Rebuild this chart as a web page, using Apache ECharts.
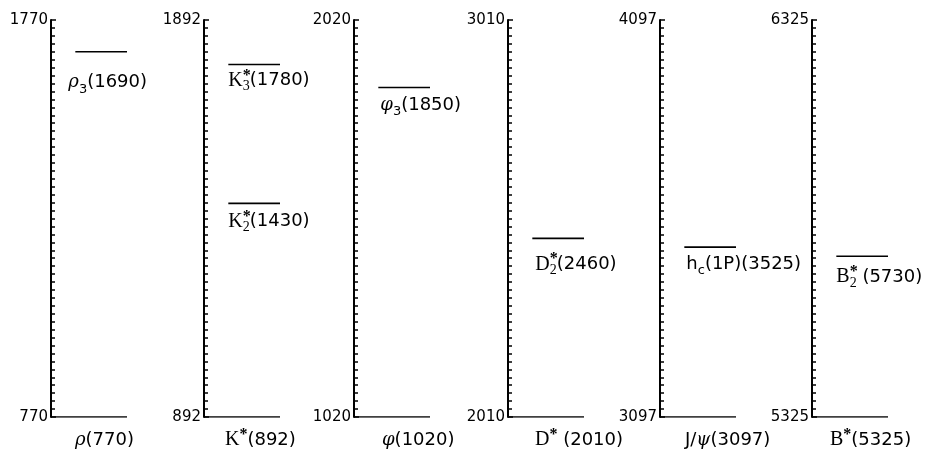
<!DOCTYPE html>
<html>
<head>
<meta charset="utf-8">
<script src="https://cdn.jsdelivr.net/npm/echarts@6/dist/echarts.min.js"></script>
<style>
    html, body { margin: 0; background: #fff; }
    #chart { width: 929px; height: 457px; }
</style>
</head>
<body>
<div id="chart"></div>
<script>
// mass window of each panel (MeV)
const axisMin = [770, 892, 1020, 2010, 3097, 5325];
const axisMax = [1770, 1892, 2020, 3010, 4097, 6325];

// ground states, one per panel
const groundMass = [770, 892, 1020, 2010, 3097, 5325];
const groundNames = [
    '{gi|ρ}{n|(770)}',
    '{s|K}{sup|*}{n|(892)}',
    '{gi|φ}{n|(1020)}',
    '{s|D}{sup|*}{n| (2010)}',
    '{n|J/}{gi|ψ}{n|(3097)}',
    '{s|B}{sup|*}{n|(5325)}'
];

// excited states
const excitedPanel = [0, 1, 1, 2, 3, 4, 5];
const excitedMass = [1690, 1780, 1430, 1850, 2460, 3525, 5730];
const excitedNames = [
    '{gi|ρ}{subn|3}{n|(1690)}',
    '{s|K}{sup0|*}{sub|3}{n|(1780)}',
    '{s|K}{sup0|*}{sub|2}{n|(1430)}',
    '{gi|φ}{subn|3}{n|(1850)}',
    '{s|D}{sup0|*}{sub|2}{n|(2460)}',
    '{n|h}{subn|c}{n|(1P)(3525)}',
    '{s|B}{sup0|*}{sub|2}{n| (5730)}'
];

// layout (pixels)
const axisX = [51, 204, 354, 508, 660, 812];
const groundLabelDx = [24, 21, 28, 27, 25, 18];
const excitedLabelOffset = [[-7, 31], [0, 16], [0, 18], [2, 18], [3, 26], [2, 17], [0, 21]];
const lineStart = 0.32;

const rich = {
    n: { fontFamily: 'DejaVu Sans', fontSize: 18, color: '#000', lineHeight: 26 },
    s: { fontFamily: 'Liberation Serif', fontSize: 20, color: '#000', lineHeight: 26 },
    gi: { fontFamily: 'DejaVu Serif', fontStyle: 'italic', fontSize: 18, color: '#000', lineHeight: 26 },
    sub: { fontFamily: 'Liberation Serif', fontSize: 14, color: '#000', verticalAlign: 'bottom', lineHeight: 14 },
    subn: { fontFamily: 'DejaVu Sans', fontSize: 13, color: '#000', verticalAlign: 'bottom', lineHeight: 14 },
    sup: { fontFamily: 'Liberation Serif', fontWeight: 'bold', fontSize: 16, color: '#000', verticalAlign: 'top', lineHeight: 14 },
    sup0: { fontFamily: 'Liberation Serif', fontWeight: 'bold', fontSize: 16, color: '#000', verticalAlign: 'top', lineHeight: 14, width: 0 }
};

const grids = [], xAxes = [], yAxes = [], series = [];

axisX.forEach(function (x, i) {
    grids.push({ left: x, top: 20, width: 76, height: 397 });
    xAxes.push({ gridIndex: i, type: 'value', min: 0, max: 1, show: false });
    yAxes.push({
        gridIndex: i,
        type: 'value',
        min: axisMin[i],
        max: axisMax[i],
        interval: 1000,
        axisLine: { show: true, lineStyle: { color: '#000', width: 2 } },
        axisTick: { show: true, inside: true, length: 5, lineStyle: { color: '#000', width: 1.5 } },
        minorTick: { show: true, splitNumber: 50, length: 4, lineStyle: { color: '#000', width: 1.5 } },
        splitLine: { show: false },
        axisLabel: {
            color: '#000',
            fontFamily: 'DejaVu Sans',
            fontSize: 15,
            margin: 3,
            formatter: function (v) { return String(v); }
        }
    });
});

function levelSeries(panel, mass, x0, text, dx, dy) {
    return {
        type: 'line',
        xAxisIndex: panel,
        yAxisIndex: panel,
        symbol: 'circle',
        symbolSize: 0,
        animation: false,
        silent: true,
        lineStyle: { color: '#000', width: 1.6 },
        data: [
            {
                value: [x0, mass],
                label: {
                    show: true,
                    position: [dx, dy],
                    align: 'left',
                    verticalAlign: 'middle',
                    formatter: text,
                    rich: rich
                }
            },
            [1, mass]
        ]
    };
}

groundMass.forEach(function (m, i) {
    series.push(levelSeries(i, m, 0, groundNames[i], groundLabelDx[i], 23));
});
excitedMass.forEach(function (m, k) {
    const off = excitedLabelOffset[k];
    series.push(levelSeries(excitedPanel[k], m, lineStart, excitedNames[k], off[0], off[1]));
});

const chart = echarts.init(document.getElementById('chart'));
chart.setOption({
    backgroundColor: '#fff',
    animation: false,
    grid: grids,
    xAxis: xAxes,
    yAxis: yAxes,
    series: series
});
</script>
</body>
</html>
